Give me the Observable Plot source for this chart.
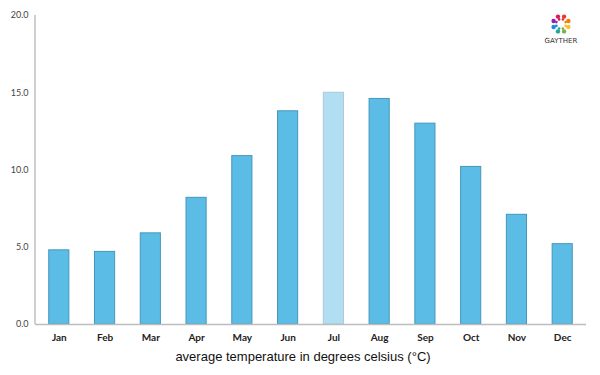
<!DOCTYPE html>
<html>
<head>
<meta charset="utf-8">
<script src="https://cdn.jsdelivr.net/npm/d3@7"></script>
<script src="https://cdn.jsdelivr.net/npm/@observablehq/plot@0.6"></script>
<style>
  body { margin: 0; background: #fff; }
  #wrap { position: relative; width: 600px; height: 375px; }
  #caption { font-family: "Liberation Sans", Arial, sans-serif; font-size: 13px; color: #111; text-align: center; height: 24px; line-height: 24px; width: 606px; }
  #logo { position: absolute; left: 541px; top: 12px; width: 40px; height: 36px; }
</style>
</head>
<body>
<div id="wrap">
  <div id="chart"></div>
  <div id="caption">average temperature in degrees celsius (°C)</div>
  <svg id="logo" width="40" height="36" viewBox="0 0 40 36"></svg>
</div>
<script>
const months = ["Jan","Feb","Mar","Apr","May","Jun","Jul","Aug","Sep","Oct","Nov","Dec"];
const temps = [4.8, 4.7, 5.9, 8.2, 10.9, 13.8, 15.0, 14.6, 13.0, 10.2, 7.1, 5.2];
const highlight = "Jul";
const yTicks = [0, 5, 10, 15, 20];

const data = months.map((m, i) => ({month: m, temp: temps[i]}));

const leftLine = (index, scales, values, dimensions) => {
  const g = d3.create("svg:g");
  g.append("line")
    .attr("x1", dimensions.marginLeft).attr("x2", dimensions.marginLeft)
    .attr("y1", scales.y(20)).attr("y2", scales.y(0))
    .attr("stroke", "#cfcfcf").attr("stroke-width", 2);
  return g.node();
};

const chart = Plot.plot({
  width: 600,
  height: 345,
  marginLeft: 35,
  marginRight: 14,
  marginTop: 15,
  marginBottom: 21,
  style: {fontFamily: "Lato, 'Open Sans', sans-serif", background: "#fff"},
  x: {domain: months, paddingInner: 0.56, paddingOuter: 0.3, round: false, label: null},
  y: {domain: [0, 20], label: null},
  marks: [
    Plot.barY(data, {
      x: "month", y: "temp",
      fill: d => d.month === highlight ? "#b2def2" : "#5bbde6",
      stroke: d => d.month === highlight ? "#a9c9d9" : "#4596bb",
      strokeWidth: 1
    }),
    Plot.ruleY([0], {stroke: "#bdbdbd", strokeWidth: 1.5}),
    leftLine,
    Plot.axisY({ticks: yTicks, tickFormat: d3.format(".1f"), tickSize: 0, tickPadding: 7, fontSize: 9, fill: "#444", label: null}),
    Plot.axisX({tickSize: 0, tickPadding: 9, fontSize: 10, fontWeight: "bold", fill: "#222", label: null})
  ]
});
document.getElementById("chart").appendChild(chart);

// logo
const logo = d3.select("#logo");
const cols = ["#e53935","#f57c00","#fbc02d","#7cb342","#26a69a","#1e88e5","#8e24aa","#d81b60"];
cols.forEach((c, i) => {
  const a = -Math.PI / 2 + i * Math.PI / 4 + Math.PI / 8;
  const cx = 20 + 8 * Math.cos(a), cy = 12 + 8 * Math.sin(a);
  logo.append("circle").attr("cx", cx).attr("cy", cy).attr("r", 2.2).attr("fill", c);
  logo.append("circle").attr("cx", 20 + 5 * Math.cos(a)).attr("cy", 12 + 5 * Math.sin(a)).attr("r", 1.3).attr("fill", c);
});
logo.append("text").attr("x", 20).attr("y", 31).attr("text-anchor", "middle")
  .attr("font-family", "'DejaVu Sans', sans-serif").attr("font-size", 7).attr("fill", "#333").text("GAYTHER");
</script>
</body>
</html>
